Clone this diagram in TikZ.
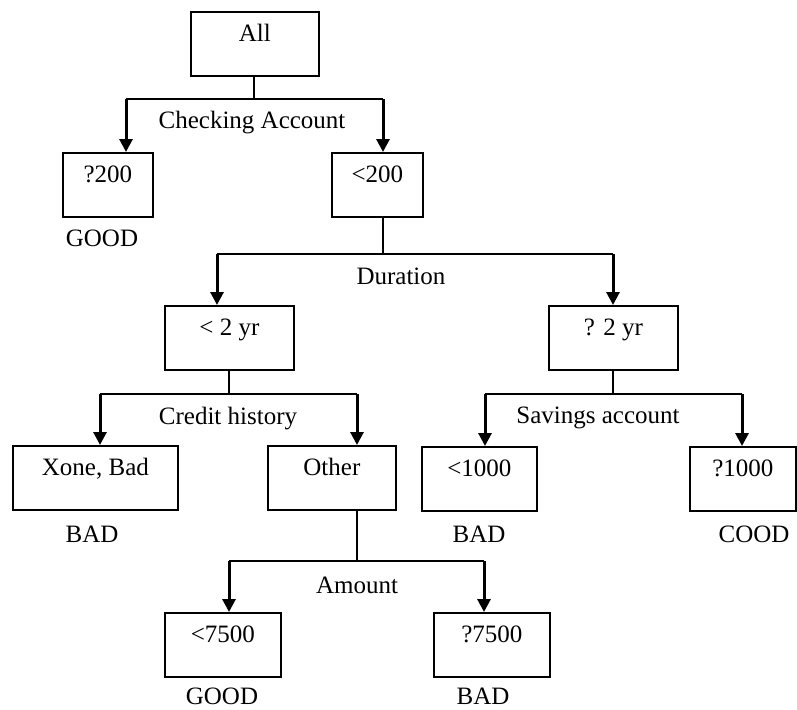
\documentclass[tikz,border=0pt]{standalone}
\usepackage{fontspec}
\setmainfont{Liberation Serif}
\usetikzlibrary{arrows.meta, positioning}
\tikzset{
  treebox/.style={draw, line width=1.8pt, anchor=north west, inner xsep=0pt,
                  inner ysep=0pt, text height=30pt, text depth=34pt, minimum height=64pt},
  branch/.style={line width=1.8pt},
  splitarrow/.style={line width=3pt, -{Triangle[width=13pt,length=13pt]}},
  splitlabel/.style={inner sep=0pt},
  leaflabel/.style={anchor=base, inner sep=0pt}
}

\begin{document}
\begin{tikzpicture}[x=1pt, y=-1pt, every node/.style={font=\fontsize{25}{30}\selectfont}]
  \useasboundingbox (0,0) rectangle (797,709);
  % boxes of the tree
  \foreach \nm/\x/\y/\w/\txt in{%
    all/190/11/128/{All},
    q200/62/152/90/{?200},
    lt200/331/152/91/{<200},
    lt2yr/164/305/129/{< 2 yr},
    ge2yr/548/305/129/{? 2 yr},
    xone/12/445/165/{Xone, Bad},
    other/267/445/128/{Other},
    lt1000/421/446/115/{<1000},
    ge1000/689/446/106/{?1000},
    lt7500/164/612/116/{<7500},
    ge7500/433/612/116/{?7500}
  }{%
    \node[treebox, minimum width=\w pt] (\nm) at (\x,\y) {\txt};
  }
  % leaf classes
  \node[leaflabel] (goodA) at (102,246) {GOOD};
  \node[leaflabel] (badA) at (92,542) {BAD};
  \node[leaflabel] (badB) at (479,542) {BAD};
  \node[leaflabel] (coodA) at (754,542) {COOD};
  \node[leaflabel] (goodB) at (222,704) {GOOD};
  \node[leaflabel] (badC) at (483,704) {BAD};

  % Checking Account split
  \coordinate (ckS) at (254,99);
  \coordinate (ckL) at (126,99);
  \coordinate (ckR) at (383,99);
  \draw[branch] (all.south -| ckS) -- (ckS);
  \draw[branch] (ckL) -- (ckR);
  \draw[splitarrow] (ckL) -- (ckL |- q200.north);
  \draw[splitarrow] (ckR) -- (ckR |- lt200.north);
  \node[splitlabel] (ckLab) at (252,123) {Checking Account};

  % Duration split
  \coordinate (duS) at (383,254);
  \coordinate (duL) at (217,254);
  \coordinate (duR) at (613,254);
  \draw[branch] (lt200.south -| duS) -- (duS);
  \draw[branch] (duL) -- (duR);
  \draw[splitarrow] (duL) -- (duL |- lt2yr.north);
  \draw[splitarrow] (duR) -- (duR |- ge2yr.north);
  \node[splitlabel] (duLab) at (401,276) {Duration};

  % Credit history split
  \coordinate (crS) at (229,394);
  \coordinate (crL) at (100,394);
  \coordinate (crR) at (357,394);
  \draw[branch] (lt2yr.south -| crS) -- (crS);
  \draw[branch] (crL) -- (crR);
  \draw[splitarrow] (crL) -- (crL |- xone.north);
  \draw[splitarrow] (crR) -- (crR |- other.north);
  \node[splitlabel] (crLab) at (228,419) {Credit history};

  % Savings account split
  \coordinate (svS) at (613,394);
  \coordinate (svL) at (485,394);
  \coordinate (svR) at (742,394);
  \draw[branch] (ge2yr.south -| svS) -- (svS);
  \draw[branch] (svL) -- (svR);
  \draw[splitarrow] (svL) -- (svL |- lt1000.north);
  \draw[splitarrow] (svR) -- (svR |- ge1000.north);
  \node[splitlabel] (svLab) at (598,418) {Savings account};

  % Amount split
  \coordinate (amS) at (357,561);
  \coordinate (amL) at (229,561);
  \coordinate (amR) at (484,561);
  \draw[branch] (other.south -| amS) -- (amS);
  \draw[branch] (amL) -- (amR);
  \draw[splitarrow] (amL) -- (amL |- lt7500.north);
  \draw[splitarrow] (amR) -- (amR |- ge7500.north);
  \node[splitlabel] (amLab) at (357,585) {Amount};
\end{tikzpicture}
\end{document}
